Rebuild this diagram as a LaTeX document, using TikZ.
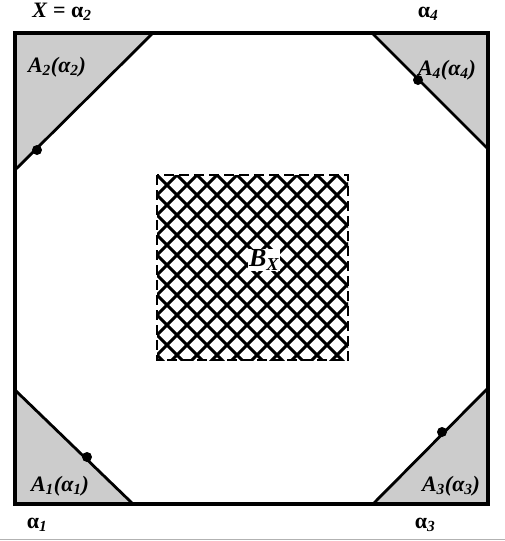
\documentclass[tikz,border=0pt]{standalone}
\usepackage{fontspec}
\setmainfont{Liberation Serif}
\begin{document}
\begin{tikzpicture}[x=1pt,y=-1pt,
  lab/.style={font=\fontsize{22}{25}\selectfont\bfseries,inner sep=0pt},
  corner/.style={fill=gray!40,draw=none},
  edge/.style={line width=2.8pt},
  dotmark/.style={circle,fill=black,inner sep=0pt,minimum size=10pt}]
\useasboundingbox (0,0) rectangle (505,541);
% corner triangles
\fill[corner] (15,33) -- (153,33) -- (15,170) -- cycle;
\fill[corner] (372,33) -- (488,33) -- (488,149) -- cycle;
\fill[corner] (15,390) -- (133,504) -- (15,504) -- cycle;
\fill[corner] (488,388) -- (488,504) -- (373,504) -- cycle;
% diagonals
\coordinate (tl1) at (153,33); \coordinate (tl2) at (15,170);
\coordinate (tr1) at (372,33); \coordinate (tr2) at (488,149);
\coordinate (bl1) at (15,390); \coordinate (bl2) at (133,504);
\coordinate (br1) at (488,388); \coordinate (br2) at (373,504);
\draw[edge] (tl1) -- (tl2);
\draw[edge] (tr1) -- (tr2);
\draw[edge] (bl1) -- (bl2);
\draw[edge] (br1) -- (br2);
% outer square
\draw[line width=3.2pt] (15,33) rectangle (488,504);
% dots
\node[dotmark] (d2) at (37,150) {};
\node[dotmark] (d4) at (418,80) {};
\node[dotmark] (d1) at (87,457) {};
\node[dotmark] (d3) at (442,432) {};
% inner hatched square
\begin{scope}
\clip (157,175) rectangle (348,360);
\foreach \i in {-220,-200,...,420}{
  \draw[line width=3pt] (157+\i,175) -- ++(200,200);
  \draw[line width=3pt] (157+\i,175) -- ++(-200,200);
}
\end{scope}
\draw[line width=2.8pt,dash pattern=on 10pt off 5pt] (157,175) rectangle (348,360);
\node[lab,font=\fontsize{26}{28}\selectfont\bfseries,fill=white,inner sep=1pt] (bx) at (264,260) {\itshape B\textsubscript{X}};
% labels
\node[lab] (x) at (62,12) {\itshape X\/ \upshape= α\textsubscript{\itshape 2}};
\node[lab] (a4) at (428,14) {α\textsubscript{\itshape 4}};
\node[lab] (a1) at (37,525) {α\textsubscript{\itshape 1}};
\node[lab] (a3) at (425,525) {α\textsubscript{\itshape 3}};
\node[lab] (A2) at (57,67) {\itshape A\textsubscript{2}(α\textsubscript{2})};
\node[lab] (A4) at (447,70) {\itshape A\textsubscript{4}(α\textsubscript{4})};
\node[lab] (A1) at (60,486) {\itshape A\textsubscript{1}(α\textsubscript{1})};
\node[lab] (A3) at (451,486) {\itshape A\textsubscript{3}(α\textsubscript{3})};
% bottom rule
\draw[gray!60,line width=1pt] (0,539) -- (505,539);
\end{tikzpicture}
\end{document}
